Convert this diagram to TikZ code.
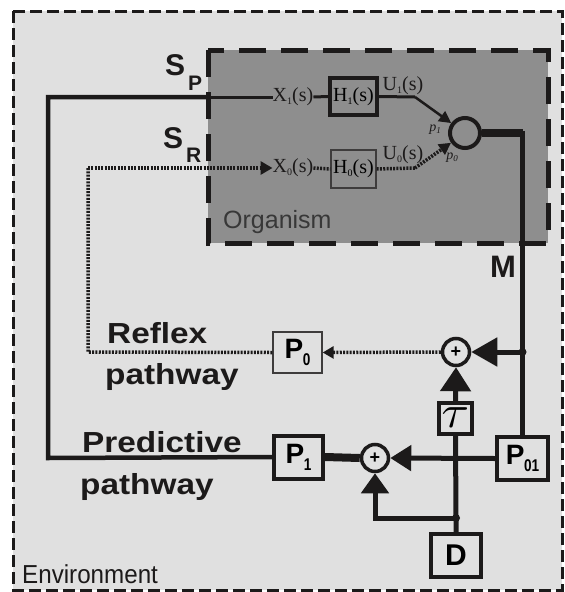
\documentclass[tikz,border=0pt]{standalone}
\usepackage{fontspec}
\setmainfont{Liberation Sans}
\newfontfamily\serifx{Liberation Serif}
\usepackage{graphicx}
\usetikzlibrary{arrows.meta}
\definecolor{envbg}{HTML}{E0E0E0}
\definecolor{orggray}{HTML}{8E8E8E}
\definecolor{ink}{HTML}{1C1A1A}
\definecolor{orgtext}{HTML}{383838}
\newcommand{\fsz}[1]{\fontsize{#1}{#1}\selectfont}
\newcommand{\Pname}[1]{{\fsz{28}\bfseries P}\kern-0.5pt\raisebox{-7pt}{\fsz{17}\bfseries\scalebox{0.8}[1]{#1}}}
\newcommand{\Xl}[2]{{\serifx\fsz{20}#1\raisebox{-3pt}{\fsz{10}#2}(s)}}
\newcommand{\Sl}[3]{{\fsz{30}\bfseries S}\kern3pt\raisebox{-#3}{\fsz{21}\bfseries #2}}
\newcommand{\wide}[1]{\fsz{29}\bfseries\scalebox{1.15}[1]{#1}}
\begin{document}
\begin{tikzpicture}[x=1pt,y=-1pt,
  medline/.style={draw=ink, line width=5pt},
  thinline/.style={draw=ink, line width=3pt},
  fatline/.style={draw=ink, line width=8pt},
  dotline/.style={draw=ink, line width=3.5pt, dash pattern=on 2pt off 1.3pt},
  blk/.style={rectangle, draw=ink, line width=4pt, inner sep=0pt},
  thinblk/.style={rectangle, draw=ink!85, line width=1.3pt, inner sep=0pt},
  sumnode/.style={circle, draw=ink, line width=3.5pt, minimum size=27pt, inner sep=0pt, font=\fsz{18}\bfseries},
  tipA/.style={-{Triangle[length=26pt,width=28pt]}},
  tipB/.style={-{Triangle[length=24pt,width=30pt]}},
  tipC/.style={-{Triangle[length=21pt,width=25pt]}},
  tipD/.style={-{Triangle[length=20pt,width=27pt]}},
  tipS/.style={-{Triangle[length=11pt,width=12pt]}},
  jdot/.style={circle, fill=ink, inner sep=0pt, minimum size=8pt},
  lbl/.style={inner sep=0pt, text=ink}
]
\useasboundingbox (0,0) rectangle (565,592);
% environment
\path[fill=envbg, draw=ink, line width=3pt, dash pattern=on 12pt off 5pt] (13,11) rectangle (562,590);
% organism
\path[fill=orggray, draw=ink, line width=5pt, dash pattern=on 27pt off 15pt] (208,50) rectangle (548,243);

% organism internals
\node[lbl] (X1) at (293,97) {\Xl{X}{1}};
\node[blk, minimum width=47pt, minimum height=37pt] (H1) at (353.5,96.5) {\Xl{H}{1}};
\node[lbl] (U1) at (403,86) {\Xl{U}{1}};
\node[lbl] (X0) at (293,168) {\Xl{X}{0}};
\node[thinblk, minimum width=45pt, minimum height=38pt] (H0) at (353.5,169) {\Xl{H}{0}};
\node[lbl] (U0) at (403,155) {\Xl{U}{0}};
\node[circle, draw=ink, line width=4pt, minimum size=30pt, inner sep=0pt] (sumO) at (465,133) {};
\node[lbl] (p1) at (435,130) {\serifx\itshape\fsz{14}p\raisebox{-2pt}{\fsz{9}1}};
\node[lbl] (p0) at (452,158) {\serifx\itshape\fsz{14}p\raisebox{-2pt}{\fsz{9}0}};
\coordinate (bend1) at (415,97);
\coordinate (bend0) at (415,168);
\coordinate (spIn) at (208,97);

\node[lbl, anchor=base west] (Org) at (223,228) {\fsz{25}\color{orgtext}Organism};

% labels
\node[lbl, anchor=base west] (SP) at (165,75) {\Sl{S}{P}{15pt}};
\node[lbl, anchor=base west] (SR) at (163,148) {\Sl{S}{R}{14pt}};
\node[lbl, anchor=base west] (M) at (490,277) {\fsz{31}\bfseries M};
\node[lbl, anchor=base west] (Rf) at (107,343) {\wide{Reflex}};
\node[lbl, anchor=base west] (Rp) at (105,384) {\wide{pathway}};
\node[lbl, anchor=base west] (Pd) at (82,452) {\wide{Predictive}};
\node[lbl, anchor=base west] (Pp) at (80,494) {\wide{pathway}};
\node[lbl, anchor=base west] (Env) at (22,583) {\fsz{26}\scalebox{0.93}[1]{Environment}};

% environment blocks
\node[sumnode] (sum2) at (456,352) {+};
\node[sumnode] (sum3) at (375,458) {+};
\node[thinblk, minimum width=49pt, minimum height=41pt] (P0) at (297.5,352.5) {\Pname{0}};
\node[blk, minimum width=49pt, minimum height=43pt] (P1) at (298.5,457) {\Pname{1}};
\node[blk, minimum width=51pt, minimum height=43pt] (P01) at (522.5,458.5) {\Pname{01}};
\node[blk, minimum width=33pt, minimum height=31pt] (tau) at (455.5,418.5) {\raisebox{1pt}{\scalebox{5}[4.6]{$\tau$}}};
\node[blk, minimum width=50pt, minimum height=43pt] (D) at (456,555.5) {\fsz{30}\bfseries D};
\coordinate (outc) at (P01.north |- sumO.east);
\coordinate (jn1) at (P01.north |- sum2.east);
\coordinate (jn2) at (456,518);
\coordinate (cB) at (sum3.south |- jn2);
\coordinate (pL) at (48,458);
\coordinate (pT) at (48,97);
\coordinate (rL) at (88,352);
\coordinate (rT) at (88,168);

% organism connections
\draw[thinline] (spIn) -- (X1.west);
\draw[thinline] (X1.east) -- (H1.west);
\draw[thinline] (H1.east) -- (bend1);
\draw[thinline, line width=2.5pt, -{Triangle[length=12pt,width=12pt]}] (bend1) -- (sumO);
\draw[dotline] (X0.east) -- (H0.west);
\draw[dotline] (H0.east) -- (bend0);
\draw[dotline, -{Triangle[length=12pt,width=12pt]}] (bend0) -- (sumO);
\draw[fatline] (sumO.east) -- (outc);
\draw[medline, line cap=rect] (outc) -- (P01.north);

% predictive pathway
\draw[medline, line width=4.5pt] (P1.west) -- (pL) -- (pT) -- (spIn);
\draw[fatline] (sum3.west) -- (P1.east);
\draw[medline, tipC] (P01.west) -- (sum3.east);
\draw[medline] (D.north) -- (jn2) -- (tau.south);
\draw[medline, tipB] (tau.north) -- (sum2.south);
\draw[medline, tipD] (jn2) -- (cB) -- (sum3.south);
\draw[medline, tipA] (jn1) -- (sum2.east);
\node[jdot] (d1) at (jn1) {};
\node[jdot] (d2) at (jn2) {};

% reflex pathway
\draw[dotline, tipS] (sum2.west) -- (P0.east);
\draw[dotline] (P0.west) -- (rL) -- (rT);
\draw[dotline, -{Triangle[length=12pt,width=13pt]}] (rT) -- (X0.west);
\end{tikzpicture}
\end{document}
